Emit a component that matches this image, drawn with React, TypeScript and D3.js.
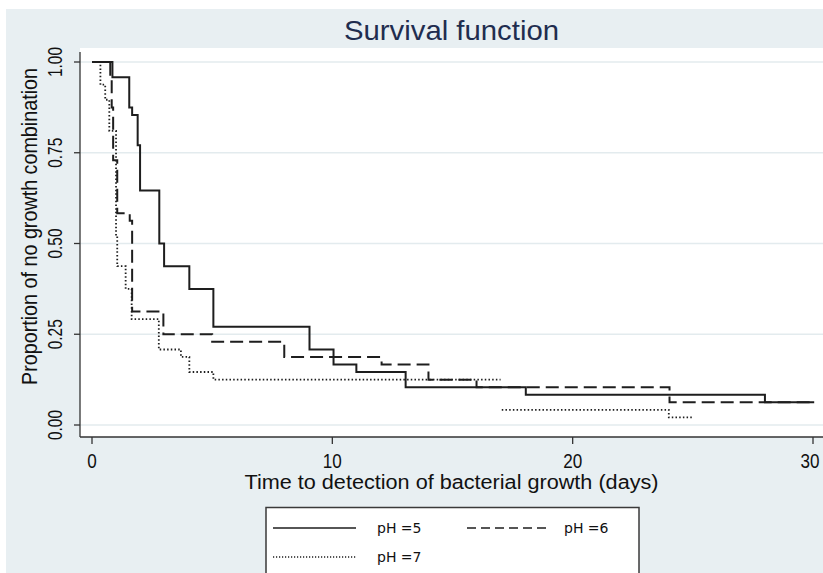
import React from "react";
import * as d3 from "d3";

// ---- data ----
const xTickValues = [0, 10, 20, 30];
const yTickValues = [0, 0.25, 0.5, 0.75, 1];

const ph5Times = [0, 0.85, 1.55, 1.67, 1.9, 2.0, 2.8, 3.0, 4.05, 5.05, 9.05, 10.05, 11.0, 13.05, 18.05, 28.0, 30.05];
const ph5Surv = [1, 0.958, 0.875, 0.854, 0.771, 0.646, 0.5, 0.4375, 0.375, 0.271, 0.208, 0.167, 0.146, 0.104, 0.083, 0.0625, 0.0625];

const ph6Times = [0, 0.76, 0.82, 0.88, 1.05, 1.57, 1.67, 2.97, 5.0, 8.0, 12.05, 14.0, 16.0, 24.03, 30.0];
const ph6Surv = [1, 0.958, 0.875, 0.729, 0.583, 0.5625, 0.3125, 0.25, 0.229, 0.1875, 0.167, 0.125, 0.104, 0.0625, 0.0625];

const ph7Times = [0, 0.35, 0.55, 0.72, 1.0, 1.05, 1.4, 1.65, 2.78, 3.7, 4.05, 5.05, 17.0];
const ph7Surv = [1, 0.9375, 0.896, 0.81, 0.52, 0.4375, 0.375, 0.2917, 0.208, 0.1875, 0.146, 0.125, 0.125];
const ph7LateTimes = [17.05, 24.0, 25.0];
const ph7LateSurv = [0.0417, 0.0208, 0.0208];

const legendLabels = ["pH =5", "pH =6", "pH =7"];

const W = 823;
const H = 573;
const plotLeft = 80;
const plotRight = 823;
const plotTop = 48;
const plotBottom = 437;

const x = d3.scaleLinear().domain([0, 30]).range([92, 813]);
const y = d3.scaleLinear().domain([0, 1]).range([425, 62]);

const stepLine = d3
  .line<[number, number]>()
  .x((d) => x(d[0]))
  .y((d) => y(d[1]))
  .curve(d3.curveStepAfter);

const zip = (t: number[], s: number[]): [number, number][] => t.map((v, i) => [v, s[i]]);

const lineColor = "#1e1e1e";
const bg = "#e8eff2";
const gridColor = "#e3ebee";
const font = "'Liberation Sans', Arial, sans-serif";

export default function App() {
  const fmt = d3.format(".2f");
  return (
    <svg
      width={W}
      height={H}
      style={{ position: "absolute", left: 0, top: 0, display: "block" }}
    >
      <rect x={0} y={0} width={W} height={H} fill="#ffffff" />
      <rect x={6} y={9} width={W - 6} height={H - 9} fill={bg} />
      <rect x={plotLeft} y={plotTop} width={plotRight - plotLeft} height={plotBottom - plotTop} fill="#ffffff" />

      {/* grid */}
      {yTickValues.map((v) => (
        <line key={"g" + v} x1={plotLeft} x2={plotRight} y1={y(v)} y2={y(v)} stroke={gridColor} strokeWidth={1.5} />
      ))}

      {/* title */}
      <text
        x={451.5}
        y={40}
        fontFamily={font}
        fontSize={28}
        fill="#1f2d4f"
        textAnchor="middle"
        textLength={215}
        lengthAdjust="spacingAndGlyphs"
      >
        Survival function
      </text>

      {/* curves */}
      <path d={stepLine(zip(ph7Times, ph7Surv)) || ""} fill="none" stroke={lineColor} strokeWidth={1.8} strokeDasharray="1.5,2.2" />
      <path d={stepLine(zip(ph7LateTimes, ph7LateSurv)) || ""} fill="none" stroke={lineColor} strokeWidth={1.8} strokeDasharray="1.5,2.2" />
      <path d={stepLine(zip(ph6Times, ph6Surv)) || ""} fill="none" stroke={lineColor} strokeWidth={2} strokeDasharray="13,6" />
      <path d={stepLine(zip(ph5Times, ph5Surv)) || ""} fill="none" stroke={lineColor} strokeWidth={2} />

      {/* axes */}
      <line x1={plotLeft} x2={plotLeft} y1={plotTop + 4} y2={plotBottom} stroke="#333" strokeWidth={1.3} />
      <line x1={plotLeft} x2={plotRight} y1={plotBottom} y2={plotBottom} stroke="#333" strokeWidth={1.3} />
      {yTickValues.map((v) => (
        <g key={"yt" + v}>
          <line x1={plotLeft - 6} x2={plotLeft} y1={y(v)} y2={y(v)} stroke="#333" strokeWidth={1.3} />
          <text
            transform={`translate(61.5,${y(v)}) rotate(-90)`}
            fontFamily={font}
            fontSize={20}
            fill="#111"
            textAnchor="middle"
            textLength={30}
            lengthAdjust="spacingAndGlyphs"
          >
            {fmt(v)}
          </text>
        </g>
      ))}
      {xTickValues.map((v) => (
        <g key={"xt" + v}>
          <line x1={x(v)} x2={x(v)} y1={plotBottom} y2={plotBottom + 7} stroke="#333" strokeWidth={1.3} />
          <text
            x={Math.min(x(v), 810)}
            y={468}
            fontFamily={font}
            fontSize={20}
            fill="#111"
            textAnchor="middle"
            textLength={String(v).length * 9.5}
            lengthAdjust="spacingAndGlyphs"
          >
            {v}
          </text>
        </g>
      ))}
      <text
        x={451.5}
        y={488.5}
        fontFamily={font}
        fontSize={20}
        fill="#111"
        textAnchor="middle"
        textLength={414}
        lengthAdjust="spacingAndGlyphs"
      >
        Time to detection of bacterial growth (days)
      </text>
      <text
        transform="translate(37,226.5) rotate(-90)"
        fontFamily={font}
        fontSize={22}
        fill="#111"
        textAnchor="middle"
        textLength={317}
        lengthAdjust="spacingAndGlyphs"
      >
        Proportion of no growth combination
      </text>

      {/* legend */}
      <rect x={266} y={507.5} width={373} height={80} fill="#ffffff" stroke="#3a3a3a" strokeWidth={1.5} />
      <line x1={273} x2={356} y1={528} y2={528} stroke={lineColor} strokeWidth={1.4} />
      <text x={377} y={528} dy="0.35em" fontFamily="'DejaVu Sans', sans-serif" fontSize={14} fill="#111">
        {legendLabels[0]}
      </text>
      <line x1={467} x2={549} y1={528} y2={528} stroke={lineColor} strokeWidth={1.4} strokeDasharray="9,5" />
      <text x={564} y={528} dy="0.35em" fontFamily="'DejaVu Sans', sans-serif" fontSize={14} fill="#111">
        {legendLabels[1]}
      </text>
      <line x1={273} x2={356} y1={557} y2={557} stroke={lineColor} strokeWidth={1.4} strokeDasharray="1.2,1.8" />
      <text x={377} y={557} dy="0.35em" fontFamily="'DejaVu Sans', sans-serif" fontSize={14} fill="#111">
        {legendLabels[2]}
      </text>
    </svg>
  );
}
